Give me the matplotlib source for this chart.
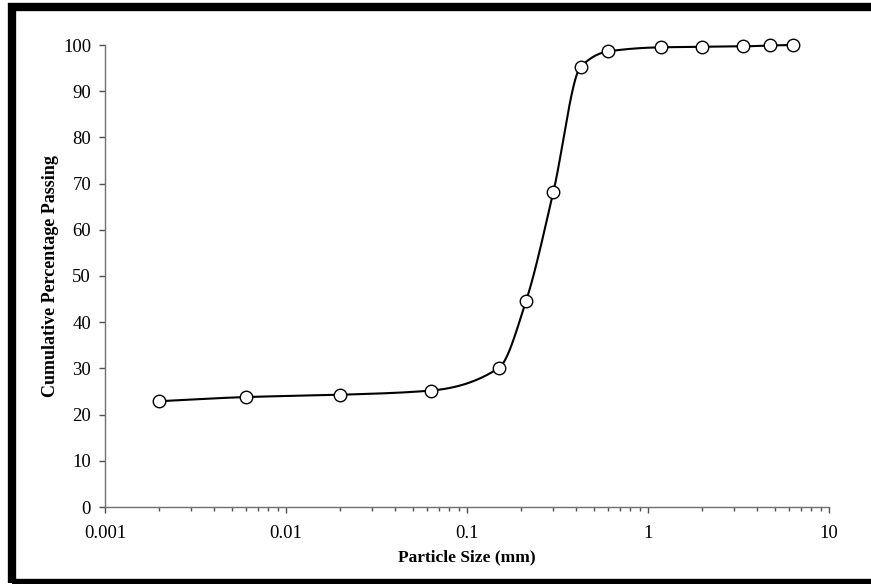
import numpy as np
import matplotlib
matplotlib.use('Agg')
import matplotlib.pyplot as plt
from matplotlib.patches import Rectangle
from matplotlib.ticker import LogLocator, FixedLocator

# sieve / hydrometer data
size_mm = [0.002, 0.006, 0.02, 0.063, 0.15, 0.212, 0.3, 0.425, 0.6, 1.18, 2.0, 3.35, 4.75, 6.3]
passing = [22.9, 23.8, 24.3, 25.2, 30.1, 44.6, 68.2, 95.3, 98.6, 99.5, 99.6, 99.7, 99.9, 100.0]

y_ticks = [0, 10, 20, 30, 40, 50, 60, 70, 80, 90, 100]
x_ticks = [0.001, 0.01, 0.1, 1, 10]
x_labels = ['0.001', '0.01', '0.1', '1', '10']

plt.rcParams['font.family'] = ['Liberation Serif', 'DejaVu Serif']


def smooth(xs, ys, n=40):
    # monotone cubic (Fritsch-Carlson) through the points, in log-x
    lx = np.log10(xs)
    y = np.asarray(ys, dtype=float)
    h = np.diff(lx)
    d = np.diff(y) / h
    m = np.zeros_like(y)
    m[0], m[-1] = d[0], d[-1]
    for i in range(1, len(y) - 1):
        if d[i - 1] * d[i] <= 0:
            m[i] = 0
        else:
            w1 = 2 * h[i] + h[i - 1]
            w2 = h[i] + 2 * h[i - 1]
            m[i] = (w1 + w2) / (w1 / d[i - 1] + w2 / d[i])
    outx, outy = [], []
    t = np.linspace(0, 1, n)
    h00 = 2 * t ** 3 - 3 * t ** 2 + 1
    h10 = t ** 3 - 2 * t ** 2 + t
    h01 = -2 * t ** 3 + 3 * t ** 2
    h11 = t ** 3 - t ** 2
    for i in range(len(y) - 1):
        outx.extend(lx[i] + t * h[i])
        outy.extend(h00 * y[i] + h10 * h[i] * m[i] + h01 * y[i + 1] + h11 * h[i] * m[i + 1])
    return 10 ** np.array(outx), np.array(outy)


fig = plt.figure(figsize=(8.71, 5.84), dpi=100)
ax = fig.add_axes([105 / 871, 77 / 584, 724 / 871, 462 / 584])

cx, cy = smooth(size_mm, passing)
ax.plot(cx, cy, color='black', lw=1.5, zorder=2, clip_on=False)
ax.plot(size_mm, passing, ls='none', marker='o', ms=9, mfc='white', mec='black',
        mew=1.0, zorder=3, clip_on=False)

ax.set_xscale('log')
ax.set_xlim(0.001, 10)
ax.set_ylim(0, 100)
ax.xaxis.set_major_locator(FixedLocator(x_ticks))
ax.set_xticklabels(x_labels)
ax.xaxis.set_minor_locator(LogLocator(base=10, subs=np.arange(2, 10)))
ax.xaxis.set_minor_formatter(plt.NullFormatter())
ax.set_yticks(y_ticks)

for s in ['top', 'right']:
    ax.spines[s].set_visible(False)
for s in ['left', 'bottom']:
    ax.spines[s].set_color('#707070')
    ax.spines[s].set_linewidth(1.0)

ax.tick_params(axis='both', which='major', direction='out', length=4, width=1,
               color='#505050', labelsize=13.5, pad=6)
ax.tick_params(axis='x', which='minor', direction='out', length=3, width=1, color='#505050')
ax.tick_params(axis='x', which='major', pad=9)

ax.set_xlabel('Particle Size (mm)', fontsize=12.5, fontweight='bold', labelpad=5)
ax.set_ylabel('Cumulative Percentage Passing', fontsize=13, fontweight='bold', labelpad=3)

# thick frame around the picture (right side runs off the edge)
fig.patches.append(Rectangle((12 / 871, 1 / 584), 880 / 871, 576 / 584, transform=fig.transFigure,
                             fill=False, edgecolor='black', linewidth=6, zorder=10))

fig.savefig('out.png', dpi=100)
